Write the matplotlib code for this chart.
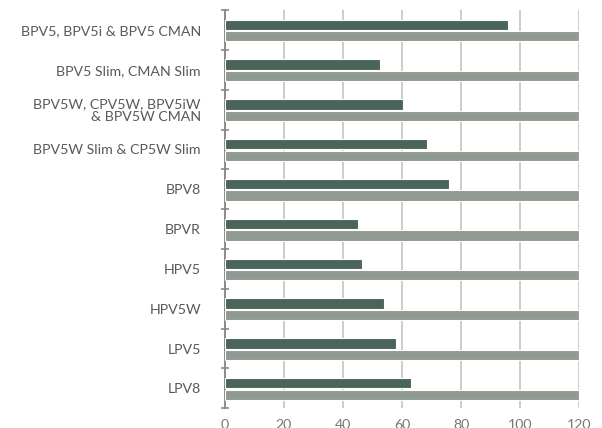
import matplotlib
matplotlib.use("Agg")
import matplotlib.pyplot as plt
import numpy as np

plt.rcParams['font.family'] = ['Lato', 'DejaVu Sans']

# product groups, top to bottom
labels = ["BPV5, BPV5i & BPV5 CMAN", "BPV5 Slim, CMAN Slim",
          "BPV5W, CPV5W, BPV5iW\n& BPV5W CMAN", "BPV5W Slim & CP5W Slim",
          "BPV8", "BPVR", "HPV5", "HPV5W", "LPV5", "LPV8"]
dark_vals = [96, 52.5, 60.5, 68.5, 76, 45, 46.5, 54, 58, 63]
light_vals = [120, 120, 120, 120, 120, 120, 120, 120, 120, 120]
xticks = [0, 20, 40, 60, 80, 100, 120]

dark_col = "#4b6459"
light_col = "#8f9a92"
text_col = "#595959"

fig = plt.figure(figsize=(6.02, 4.28), dpi=100)
ax = fig.add_axes([0.373, 0.046, 0.9623 - 0.373, 0.9766 - 0.046])

y = np.arange(len(labels))
h = 0.26
ax.barh(y - 0.13, dark_vals, height=h, color=dark_col, edgecolor="white", linewidth=0.8, zorder=3)
ax.barh(y + 0.16, light_vals, height=h, color=light_col, edgecolor="white", linewidth=0.8, zorder=3)

ax.set_ylim(len(labels) - 0.5, -0.5)
ax.set_xlim(0, 120)
ax.set_xticks(xticks)
ax.grid(axis="x", color="#cccccc", linewidth=1.4, zorder=0)
ax.set_axisbelow(True)

ax.set_yticks(y)
ax.set_yticklabels(labels, fontsize=10.2, color=text_col, linespacing=1.0)
ax.set_yticks(np.arange(-0.5, len(labels)), minor=True)
ax.tick_params(axis="y", which="major", length=0, pad=17)
ax.tick_params(axis="y", which="minor", direction="inout", length=6, width=1.2, color="#8a8a8a")
ax.tick_params(axis="x", length=0, labelsize=10.2, labelcolor="#777777", pad=8)

for s in ["top", "right", "bottom"]:
    ax.spines[s].set_visible(False)
ax.spines["left"].set_color("#8a8a8a")
ax.spines["left"].set_linewidth(1.4)

fig.savefig("out.png", dpi=100)
